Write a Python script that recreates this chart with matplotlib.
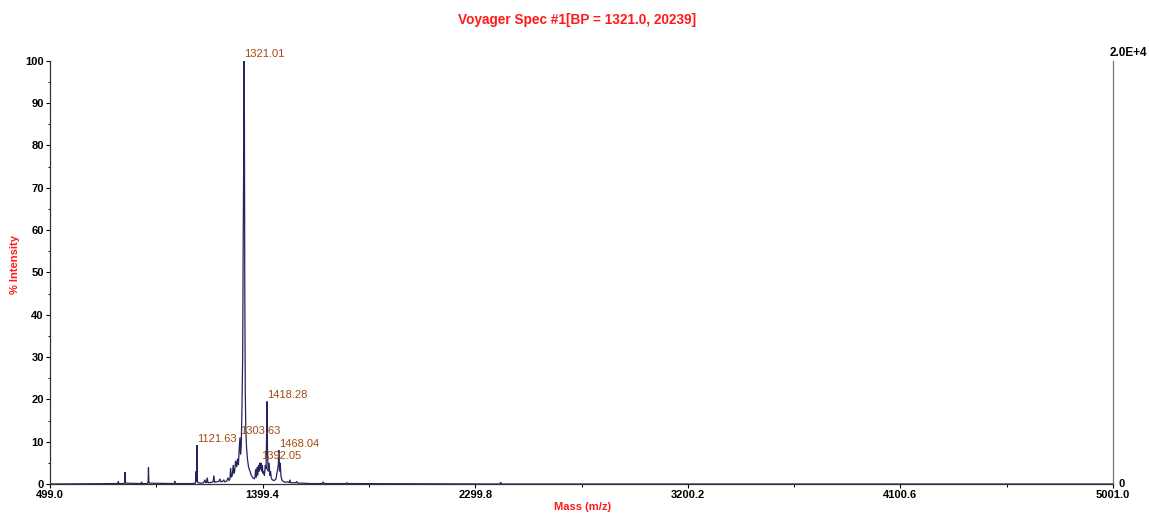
import matplotlib
matplotlib.use("Agg")
import matplotlib.pyplot as plt
from matplotlib.ticker import MultipleLocator, FixedLocator

plt.rcParams['font.family'] = ['Liberation Sans', 'DejaVu Sans']

# ---- spectrum profile (m/z, % intensity) ----
profile_mz = [
    499, 780, 787, 788.5, 790,
    812, 815.5, 817, 819,
    884, 887, 888.5,
    911, 914.5, 916, 918,
    1024, 1028, 1031,
    1100, 1115, 1118, 1120, 1121.6, 1123.5, 1126, 1140,
    1150, 1155, 1158, 1162, 1165, 1168, 1186, 1190, 1193, 1196, 1200,
    1214, 1219, 1223, 1230, 1235, 1239, 1248, 1253, 1257,
    1261, 1264, 1267, 1271, 1275, 1278, 1281, 1285, 1290, 1293,
    1297, 1300, 1303.6, 1306, 1309, 1312, 1315, 1317, 1319.5, 1321,
    1322.5, 1324, 1326, 1328, 1331, 1335, 1340, 1346, 1352, 1358,
    1363, 1367, 1370, 1373, 1376, 1379, 1382, 1385, 1388, 1390,
    1392, 1395, 1398, 1401, 1404, 1407, 1411, 1414, 1416, 1418.3,
    1420, 1423, 1427, 1430, 1433, 1436, 1440, 1448, 1456, 1460,
    1463, 1466, 1468, 1471, 1474, 1477, 1480, 1483, 1487, 1495,
    1505, 1512, 1515, 1518, 1530, 1540, 1544, 1548, 1570, 1600,
    1652, 1656, 1660, 1752, 1756, 1760, 2404, 2408, 2412, 5001,
]
profile_int = [
    0.0, 0.1, 0.2, 0.6, 0.1,
    0.1, 0.3, 2.8, 0.2,
    0.1, 0.5, 0.1,
    0.1, 0.6, 3.9, 0.2,
    0.1, 0.7, 0.1,
    0.1, 0.2, 3.0, 0.5, 9.2, 0.6, 0.3, 0.2,
    0.3, 1.0, 0.3, 0.4, 1.5, 0.3, 0.4, 0.6, 2.0, 0.4, 0.5,
    0.6, 1.2, 0.5, 0.6, 1.0, 0.5, 0.7, 1.5, 0.8,
    1.2, 3.8, 1.6, 2.0, 4.5, 2.5, 3.0, 5.5, 4.0, 6.0,
    4.5, 8.0, 11.0, 7.0, 9.0, 18.0, 30.0, 55.0, 78.0, 100.0,
    84.0, 45.0, 22.0, 14.0, 9.0, 6.0, 4.0, 3.0, 2.0, 1.5,
    1.2, 1.5, 3.5, 1.5, 4.0, 2.0, 4.5, 3.0, 5.0, 3.5,
    5.0, 3.0, 4.5, 2.5, 3.0, 2.0, 4.5, 3.5, 10.0, 19.5,
    8.0, 3.0, 5.0, 2.0, 3.0, 1.5, 1.0, 0.8, 1.2, 2.5,
    3.5, 4.5, 8.0, 3.0, 5.0, 2.0, 1.2, 0.8, 0.6, 0.4,
    0.5, 0.3, 1.0, 0.3, 0.3, 0.3, 0.6, 0.2, 0.2, 0.1,
    0.1, 0.5, 0.1, 0.1, 0.3, 0.1, 0.0, 0.4, 0.0, 0.0,
]

# ---- annotated peaks ----
label_mz = [1321.01, 1418.28, 1121.63, 1303.63, 1468.04, 1392.05]
label_int = [100.0, 19.5, 9.2, 11.0, 8.0, 5.0]
label_text = ["1321.01", "1418.28", "1121.63", "1303.63", "1468.04", "1392.05"]

x_ticks = [499.0, 1399.4, 2299.8, 3200.2, 4100.6, 5001.0]
y_ticks = [0, 10, 20, 30, 40, 50, 60, 70, 80, 90, 100]

title_text = "Voyager Spec #1[BP = 1321.0, 20239]"
xlabel_text = "Mass (m/z)"
ylabel_text = "% Intensity"
right_top_text = "2.0E+4"
right_bottom_text = "0"

line_color = "#24245f"
label_color = "#a24a10"
red = "#ff1a1a"

fig = plt.figure(figsize=(11.49, 5.13), dpi=100)
ax = fig.add_axes([50 / 1149, 29 / 513, 1063 / 1149, 423.3 / 513])

ax.plot(profile_mz, profile_int, color=line_color, lw=0.9, solid_joinstyle='miter')

ax.set_xlim(x_ticks[0], x_ticks[-1])
ax.set_ylim(0, 100)

for m, h, t in zip(label_mz, label_int, label_text):
    ax.annotate(t, xy=(m, h), xytext=(0, 1), textcoords='offset points',
                ha='left', va='bottom', fontsize=8, color=label_color)

ax.xaxis.set_major_locator(FixedLocator(x_ticks))
ax.set_xticklabels([f"{v:.1f}" for v in x_ticks])
minors = [(a + b) / 2 for a, b in zip(x_ticks[:-1], x_ticks[1:])]
ax.xaxis.set_minor_locator(FixedLocator(minors))
ax.yaxis.set_major_locator(FixedLocator(y_ticks))
ax.yaxis.set_minor_locator(MultipleLocator(5))

ax.tick_params(axis='both', which='major', direction='out', length=3, width=0.8,
               labelsize=8, pad=1.5, colors='black')
ax.tick_params(axis='both', which='minor', direction='out', length=1.8, width=0.7)
for lab in ax.get_xticklabels() + ax.get_yticklabels():
    lab.set_fontweight('bold')

ax.spines['top'].set_visible(False)
ax.spines['right'].set_color('#777777')
ax.spines['left'].set_color('#333333')
ax.spines['bottom'].set_color('#333333')
for s in ax.spines.values():
    s.set_linewidth(0.9)

ax.text(0.997, 1.005, right_top_text, transform=ax.transAxes, ha='left', va='bottom',
        fontsize=8.5, fontweight='bold', color='black')
ax.text(1.005, 0.0, right_bottom_text, transform=ax.transAxes, ha='left', va='center',
        fontsize=8, fontweight='bold', color='black')

fig.text(577 / 1149, 1 - 20 / 513, title_text, ha='center', va='center',
         fontsize=9.8, fontweight='bold', color=red)
fig.text(583 / 1149, 1 - 507 / 513, xlabel_text, ha='center', va='center',
         fontsize=8, fontweight='bold', color=red)
fig.text(15 / 1149, 1 - 265 / 513, ylabel_text, ha='center', va='center',
         rotation=90, fontsize=8, fontweight='bold', color=red)

fig.savefig("out.png", dpi=100, facecolor='white')
